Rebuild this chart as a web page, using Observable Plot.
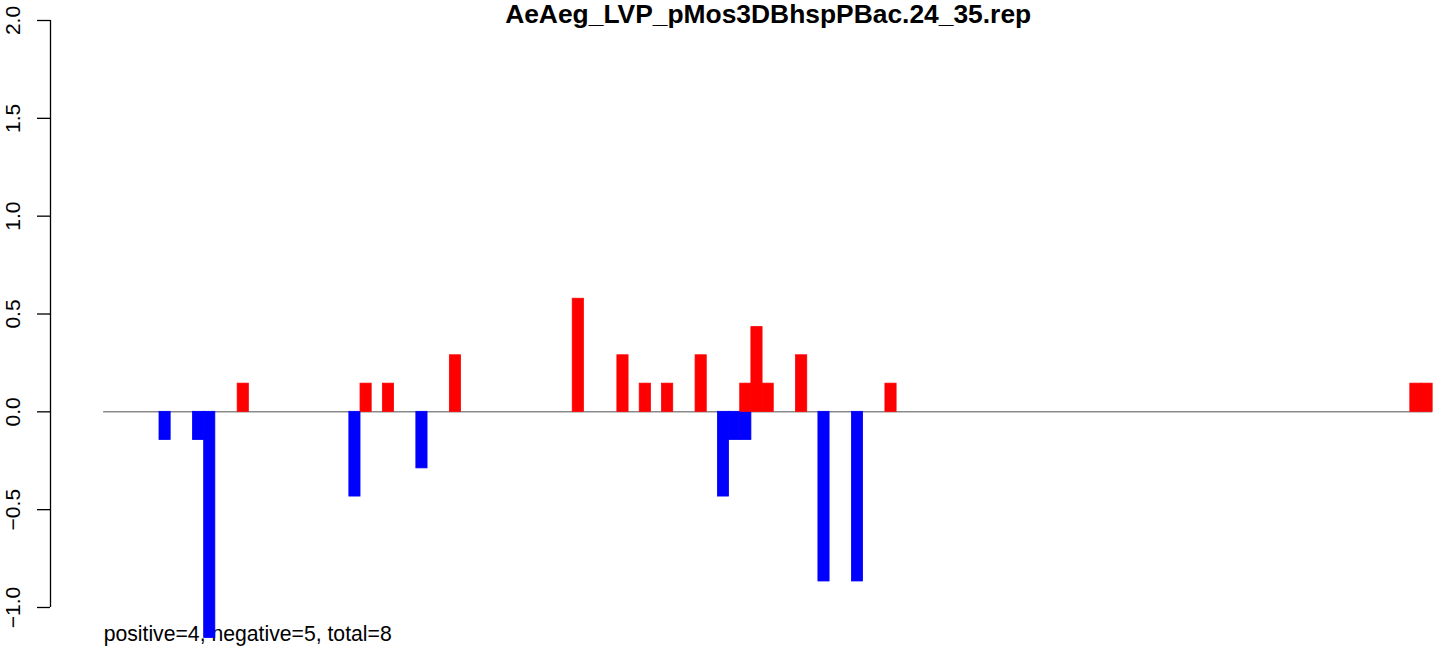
<!DOCTYPE html>
<html>
<head>
<meta charset="utf-8">
<script src="https://cdn.jsdelivr.net/npm/d3@7"></script>
<script src="https://cdn.jsdelivr.net/npm/@observablehq/plot@0.6"></script>
<style>
  html, body { margin: 0; padding: 0; background: #ffffff; }
  #chart { width: 1444px; height: 655px; overflow: hidden; }
</style>
</head>
<body>
<div id="chart"></div>
<script>
// ---- data ----
const title = "AeAeg_LVP_pMos3DBhspPBac.24_35.rep";
const seqLength = 119;
const positions = [5, 8, 9, 12, 22, 23, 25, 28, 31, 42, 46, 48, 50, 53, 55, 56, 57, 57, 58, 59, 62, 64, 67, 70, 117, 118];
const values = [-0.144, -0.144, -1.156, 0.144, -0.433, 0.144, 0.144, -0.289, 0.289, 0.578, 0.289, 0.144, 0.144, 0.289, -0.433, -0.144, -0.144, 0.144, 0.433, 0.144, 0.289, -0.867, -0.867, 0.144, 0.144, 0.144];
const yTicks = [-1.0, -0.5, 0.0, 0.5, 1.0, 1.5, 2.0];
const statLabels = ["positive", "negative", "total"];
const statValues = [4, 5, 8];

// ---- build ----
const bars = positions.map((p, i) => ({pos: p, value: values[i]}));
const pad = seqLength * 0.04;
const xDomain = [-pad, seqLength + pad];
const yDomain = [d3.min(yTicks), d3.max(yTicks)];
const footer = statLabels.map((s, i) => `${s}=${statValues[i]}`).join(", ");
const barColor = d => d.value > 0 ? "#ff0000" : "#0000ff";

const chart = Plot.plot({
  width: 1444,
  height: 655,
  marginLeft: 50,
  marginRight: 0,
  marginTop: 20,
  marginBottom: 48,
  style: {fontFamily: "'Liberation Sans', Arial, Helvetica, sans-serif", background: "#ffffff", color: "#000"},
  x: {domain: xDomain, range: [50, 50 + (1432 - 103) / seqLength * (xDomain[1] - xDomain[0])], axis: null},
  y: {domain: yDomain, axis: null},
  marks: [
    Plot.text([footer], {x: () => 0, frameAnchor: "bottom", dy: 33, lineAnchor: "bottom", textAnchor: "start", fontSize: 21.2, fill: "#000"}),
    Plot.ruleY([0], {x1: 0, x2: seqLength, stroke: "#8a8a8a", strokeWidth: 1.5}),
    Plot.rectY(bars, {x1: d => d.pos, x2: d => d.pos + 1, y1: 0, y2: "value", fill: barColor, stroke: barColor, strokeWidth: 0.8}),
    Plot.ruleX([xDomain[0]], {y1: yDomain[0], y2: yDomain[1], stroke: "#000", strokeWidth: 1.3}),
    Plot.axisY(yTicks, {anchor: "left", label: null, tickSize: 13, tickPadding: 18, tickRotate: -90, tickFormat: d3.format(".1f"), fontSize: 21, strokeWidth: 1.3}),
    Plot.text([title], {x: () => (xDomain[0] + xDomain[1]) / 2, frameAnchor: "top", dy: 2, lineAnchor: "bottom", fontSize: 26.4, fontWeight: "bold", fill: "#000"})
  ]
});
document.getElementById("chart").appendChild(chart);
</script>
</body>
</html>
